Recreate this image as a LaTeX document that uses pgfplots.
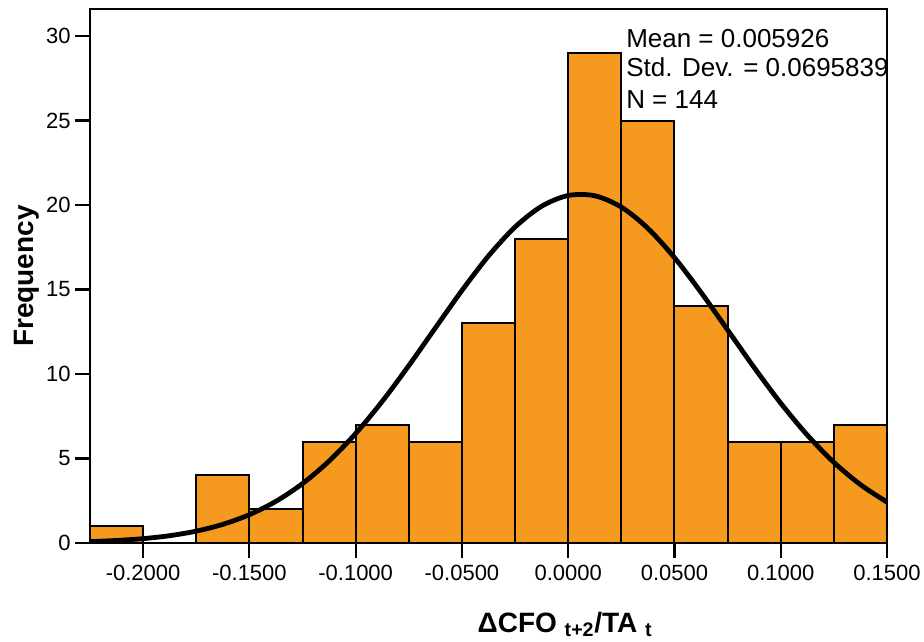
\documentclass[border=0pt]{standalone}
\usepackage{pgfplots}
\pgfplotsset{compat=1.18}
\usepackage{fontspec}
\setmainfont{Liberation Sans}
\definecolor{barorange}{HTML}{F6991F}

\begin{document}
\begin{tikzpicture}
\begin{axis}[
  name=ax,
  scale only axis,
  width=597.75pt, height=400.5pt,
  xmin=-0.225, xmax=0.15,
  ymin=0, ymax=31.6,
  axis line style={line width=1.6pt},
  tick align=outside,
  major tick length=11pt,
  tick style={line width=1.6pt, black},
  xtick pos=bottom, ytick pos=left,
  xtick={-0.2,-0.15,-0.1,-0.05,0,0.05,0.1,0.15},
  xticklabels={-0.2000,-0.1500,-0.1000,-0.0500,0.0000,0.0500,0.1000,0.1500},
  ytick={0,5,10,15,20,25,30},
  /pgf/number format/assume math mode=true,
  ticklabel style={font=\fontsize{16.5}{18}\selectfont},
  xticklabel style={yshift=-2pt},
  xlabel={\textbf{ΔCFO \textsubscript{t+2}/TA \textsubscript{t}}},
  ylabel={\textbf{Frequency}},
  label style={font=\fontsize{21}{23}\selectfont},
  xlabel style={at={(axis description cs:0.596,-0.1667)}, anchor=base},
  ylabel style={at={(axis description cs:-0.0715,0.5)}, anchor=base},
  clip=false,
]
\addplot[ybar interval, fill=barorange, draw=black, line width=1.5pt] coordinates {
  (-0.225,1) (-0.2,0) (-0.175,4) (-0.15,2) (-0.125,6) (-0.1,7) (-0.075,6)
  (-0.05,13) (-0.025,18) (0,29) (0.025,25) (0.05,14) (0.075,6) (0.1,6)
  (0.125,7) (0.15,7)
};
\addplot[smooth, black, line width=3.6pt] coordinates {
  (-0.225,0.084) (-0.2125,0.150) (-0.2,0.259) (-0.1875,0.433) (-0.175,0.702)
  (-0.1625,1.103) (-0.15,1.677) (-0.1375,2.467) (-0.125,3.516) (-0.1125,4.850)
  (-0.1,6.480) (-0.0875,8.381) (-0.075,10.496) (-0.0625,12.728) (-0.05,14.942)
  (-0.0375,16.988) (-0.025,18.699) (-0.0125,19.929) (0,20.565)
  (0.0125,20.548) (0.025,19.879) (0.0375,18.621) (0.05,16.888) (0.0625,14.830)
  (0.075,12.611) (0.0875,10.382) (0.1,8.276) (0.1125,6.387) (0.125,4.773)
  (0.1375,3.454) (0.15,2.420)
};
\node[anchor=base west, inner sep=0pt, font=\fontsize{19.5}{21}\selectfont]
  at (axis description cs:0.6725,0.9288) {Mean = 0.005926};
\node[anchor=base west, inner sep=0pt, font=\fontsize{19.5}{21}\selectfont]
  at (axis description cs:0.6725,0.8727) {Std. Dev. = 0.0695839};
\node[anchor=base west, inner sep=0pt, font=\fontsize{19.5}{21}\selectfont]
  at (axis description cs:0.6725,0.8146) {N = 144};
\end{axis}
\pgfresetboundingbox
\path ([shift={(-67.5pt,-73.5pt)}]ax.south west) rectangle ([shift={(27.75pt,6.75pt)}]ax.north east);
\end{tikzpicture}
\end{document}
